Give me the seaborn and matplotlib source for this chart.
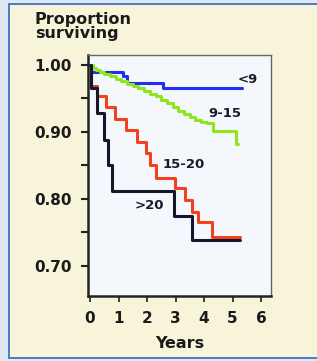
import matplotlib
matplotlib.use("Agg")
import matplotlib.pyplot as plt
from matplotlib.patches import Rectangle
import numpy as np
import pandas as pd
import seaborn as sns

# ---- data ----
blue_t = [0, 0.03, 1.17, 1.29, 2.55, 5.33]
blue_v = [1.0, 0.989, 0.984, 0.973, 0.965, 0.965]

green_t = [0, 0.1, 0.2, 0.35, 0.5, 0.7, 0.9, 1.1, 1.3, 1.5, 1.7, 1.9, 2.1, 2.3,
           2.5, 2.7, 2.9, 3.1, 3.3, 3.5, 3.7, 3.9, 4.1, 4.3, 5.12, 5.2]
green_v = [1.0, 0.996, 0.992, 0.989, 0.986, 0.983, 0.979, 0.976, 0.972, 0.968,
           0.965, 0.961, 0.957, 0.953, 0.948, 0.943, 0.937, 0.931, 0.927, 0.922,
           0.918, 0.915, 0.914, 0.902, 0.882, 0.882]

red_t = [0, 0.03, 0.26, 0.56, 0.88, 1.26, 1.66, 1.98, 2.1, 2.3, 2.98, 3.33,
         3.57, 3.8, 4.28, 5.26]
red_v = [1.0, 0.969, 0.953, 0.937, 0.920, 0.903, 0.885, 0.868, 0.851, 0.831,
         0.816, 0.799, 0.781, 0.766, 0.743, 0.743]

black_t = [0, 0.03, 0.23, 0.5, 0.62, 0.76, 2.96, 3.57, 5.26]
black_v = [1.0, 0.965, 0.928, 0.888, 0.850, 0.812, 0.775, 0.738, 0.738]

groups = ["<9", "9-15", "15-20", ">20"]
group_colors = ["#1f2ff0", "#8fe61e", "#f2411e", "#15172a"]
label_pos_t = [5.55, 4.74, 3.28, 2.1]
label_pos_v = [0.979, 0.928, 0.851, 0.790]

x_ticks = [0, 1, 2, 3, 4, 5, 6]
y_ticks = [0.70, 0.80, 0.90, 1.00]
y_minor = [0.75, 0.85, 0.95]
y_tick_labels = ["0.70", "0.80", "0.90", "1.00"]

frames = []
for g, t, v in zip(groups, [blue_t, green_t, red_t, black_t],
                   [blue_v, green_v, red_v, black_v]):
    frames.append(pd.DataFrame({"t": t, "v": v, "group": g}))
df = pd.concat(frames, ignore_index=True)

sns.set_style("white")
plt.rcParams["font.family"] = ["DejaVu Sans"]
plt.rcParams["font.weight"] = "bold"

W, H = 317, 361
fig = plt.figure(figsize=(W / 100, H / 100), dpi=100)
fig.patch.set_facecolor("#dfe7f4")
fig.patches.append(Rectangle((9 / W, 1 - 358 / H), 1.0, (358 - 4) / H,
                             transform=fig.transFigure, facecolor="#f8f4d9",
                             edgecolor="#3f72c2", linewidth=1.3, zorder=-5))

ax = fig.add_axes([88 / W, 1 - 296 / H, (271 - 88) / W, (296 - 55) / H])
ax.set_zorder(2)
ax.set_facecolor("#f4f7fb")

sns.lineplot(data=df, x="t", y="v", hue="group", hue_order=groups,
             palette=dict(zip(groups, group_colors)), estimator=None,
             sort=False, drawstyle="steps-post", linewidth=2.2,
             legend=False, ax=ax)

for g, tx, ty in zip(groups, label_pos_t, label_pos_v):
    ax.text(tx, ty, g, ha="center", va="center", fontsize=9.5,
            fontweight="bold", color="#1a1a2a")

ax.set_xlim(-0.07, 6.35)
ax.set_ylim(0.655, 1.0149)
ax.set_xticks(x_ticks)
ax.set_xticklabels([str(x) for x in x_ticks])
ax.set_yticks(y_ticks)
ax.set_yticklabels(y_tick_labels)
ax.set_yticks(y_minor, minor=True)
ax.tick_params(axis="y", which="both", direction="out", length=5, width=1.5,
               color="#222222", pad=7, labelsize=11, left=True)
ax.tick_params(axis="x", direction="out", length=4, width=1.2,
               color="#222222", pad=7, labelsize=11, bottom=True)
for lab in ax.get_xticklabels() + ax.get_yticklabels():
    lab.set_fontweight("bold")
    lab.set_color("#1a1a1a")

ax.set_xlabel("Years", fontsize=11.5, fontweight="bold", labelpad=7,
              color="#1a1a1a")
ax.set_ylabel("")

for side in ["left", "bottom"]:
    ax.spines[side].set_linewidth(1.8)
    ax.spines[side].set_color("#222222")
for side in ["top", "right"]:
    ax.spines[side].set_linewidth(1.0)
    ax.spines[side].set_color("#666666")
    ax.spines[side].set_visible(True)

fig.text(35 / W, 1 - 12 / H, "Proportion\nsurviving", ha="left", va="top",
         fontsize=11.5, fontweight="bold", color="#1a1a1a", linespacing=0.95)

fig.savefig("out.png", dpi=100, facecolor=fig.get_facecolor())
